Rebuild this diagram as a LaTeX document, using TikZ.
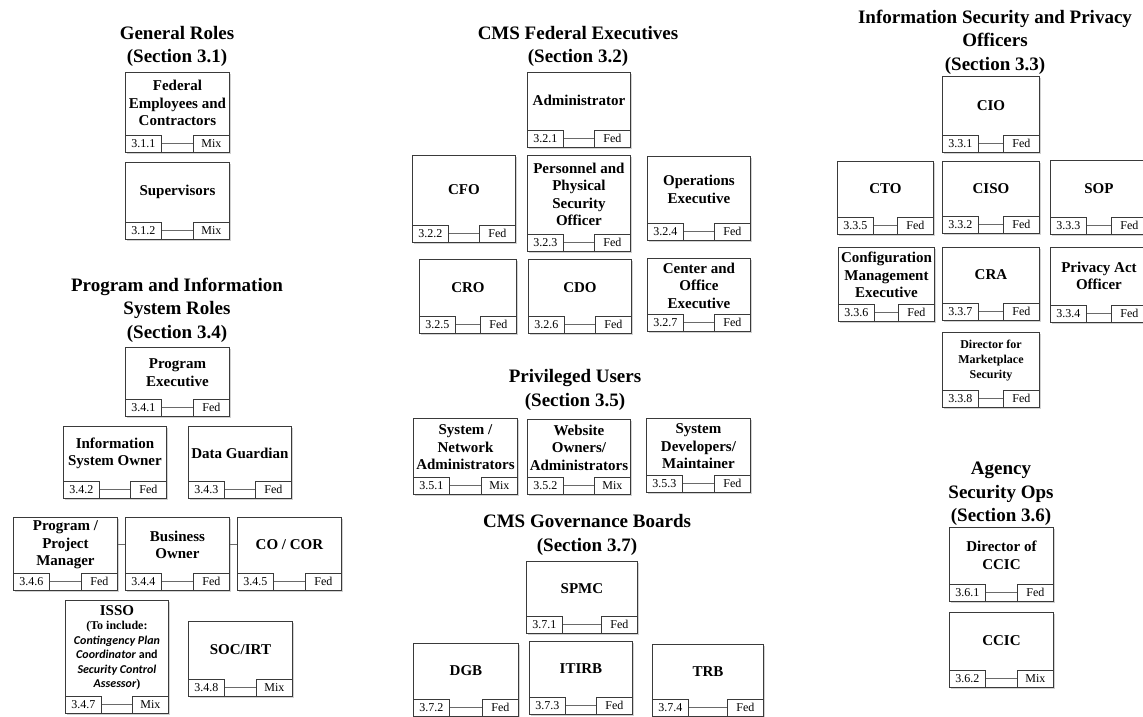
\documentclass[tikz,border=0pt]{standalone}
\usepackage{fontspec}
\setmainfont{Liberation Serif}
\newfontfamily\calib{Carlito}
\usetikzlibrary{calc,shadows}
\definecolor{edge}{HTML}{3a3a3a}
\definecolor{wire}{HTML}{6a6a6a}
\tikzset{
  card/.style={draw=edge,line width=.9pt,fill=white,inner sep=0pt,
     drop shadow={shadow xshift=1.6pt,shadow yshift=-1.6pt,fill=black!35}},
  cardtext/.style={font=\fontsize{15}{17.5}\selectfont\bfseries,
     align=center,inner sep=0pt},
  tag/.style={draw=edge,line width=.9pt,fill=white,inner sep=0pt,
     minimum width=36pt,minimum height=17.5pt,font=\fontsize{12}{12}\selectfont},
  wire/.style={draw=wire,line width=1pt},
  heading/.style={font=\fontsize{19}{23.5}\selectfont\bfseries,
     align=center,inner sep=0pt},
}
% [#1] text style, #2 name, #3 x, #4 y (top left), #5 width, #6 height,
% #7 role, #8 section no., #9 Fed/Mix
\newcommand\rolecard[9][]{%
  \node[card,anchor=north west,minimum width=#5pt,minimum height=#6pt] (#2) at (#3,#4) {};
  \node[cardtext,#1] (#2-t) at ($(#2.north)+(0,{(#6-17.5)/2})$) {#7};
  \node[tag,anchor=south west] (#2-n) at (#2.south west) {#8};
  \node[tag,anchor=south east] (#2-k) at (#2.south east) {#9};
  \draw[wire] (#2-n) -- (#2-k);
}

\begin{document}
\begin{tikzpicture}[x=1pt,y=-1pt]
  \useasboundingbox (0,0) rectangle (1143,717);

  % general roles
  \node[heading] (h31) at (177,46.5) {General Roles\\(Section 3.1)};
  \rolecard{b311}{125}{72}{104}{80}{Federal\\Employees and\\Contractors}{3.1.1}{Mix}
  \rolecard{b312}{125}{162}{104}{77}{Supervisors}{3.1.2}{Mix}

  % program and information system roles
  \node[heading] (h34) at (177,310) {Program and Information\\System Roles\\(Section 3.4)};
  \rolecard{b341}{125}{347}{104}{69}{Program\\Executive}{3.4.1}{Fed}
  \rolecard{b342}{63}{426}{103}{72}{Information\\System Owner}{3.4.2}{Fed}
  \rolecard{b343}{188}{426}{103}{72}{Data Guardian}{3.4.3}{Fed}
  \rolecard{b346}{13}{517}{104}{73}{Program /\\Project\\Manager}{3.4.6}{Fed}
  \rolecard{b344}{125}{517}{104}{73}{Business\\Owner}{3.4.4}{Fed}
  \rolecard{b345}{237}{517}{104}{73}{CO / COR}{3.4.5}{Fed}
  \draw[wire] (b346.east |- b344-t) -- (b344.west |- b344-t);
  \draw[wire] (b344.east |- b344-t) -- (b345.west |- b344-t);
  \rolecard[font=\fontsize{12}{14.5}\selectfont\bfseries]{b347}{65}{600}{103}{113}
    {{\fontsize{15}{15}\selectfont ISSO}\\(To include:\\
     {\calib\itshape Contingency Plan}\\{\calib\itshape Coordinator} {\calib and}\\
     {\calib\itshape Security Control}\\{\calib\itshape Assessor})}{3.4.7}{Mix}
  \rolecard{b348}{188}{621}{104}{75}{SOC/IRT}{3.4.8}{Mix}

  % federal executives
  \node[heading] (h32) at (578,46.5) {CMS Federal Executives\\(Section 3.2)};
  \rolecard{b321}{527}{72}{103}{75}{Administrator}{3.2.1}{Fed}
  \rolecard{b322}{412}{155}{103}{87}{CFO}{3.2.2}{Fed}
  \rolecard{b323}{527}{155}{103}{96}{Personnel and\\Physical\\Security\\Officer}{3.2.3}{Fed}
  \rolecard{b324}{647}{156}{103}{84}{Operations\\Executive}{3.2.4}{Fed}
  \rolecard{b325}{419}{259}{97}{74}{CRO}{3.2.5}{Fed}
  \rolecard{b326}{528}{259}{103}{74}{CDO}{3.2.6}{Fed}
  \rolecard{b327}{647}{258}{103}{73}{Center and\\Office\\Executive}{3.2.7}{Fed}

  % privileged users
  \node[heading] (h35) at (575,390) {Privileged Users\\(Section 3.5)};
  \rolecard{b351}{413}{418}{104}{76}{System /\\Network\\Administrators}{3.5.1}{Mix}
  \rolecard{b352}{527}{419}{103}{75}{Website\\Owners/\\Administrators}{3.5.2}{Mix}
  \rolecard{b353}{646}{418}{104}{74}{System\\Developers/\\Maintainer}{3.5.3}{Fed}

  % governance boards
  \node[heading] (h37) at (587,535) {CMS Governance Boards\\(Section 3.7)};
  \rolecard{b371}{526}{561}{111}{72}{SPMC}{3.7.1}{Fed}
  \rolecard{b372}{413}{643}{105}{73}{DGB}{3.7.2}{Fed}
  \rolecard{b373}{529}{641}{103}{73}{ITIRB}{3.7.3}{Fed}
  \rolecard{b374}{652}{644}{111}{72}{TRB}{3.7.4}{Fed}

  % security and privacy officers
  \node[heading] (h33) at (995,42) {Information Security and Privacy\\Officers\\(Section 3.3)};
  \rolecard{b331}{942}{76}{97}{76}{CIO}{3.3.1}{Fed}
  \rolecard{b335}{837}{161}{96}{73}{CTO}{3.3.5}{Fed}
  \rolecard{b332}{942}{161}{97}{72}{CISO}{3.3.2}{Fed}
  \rolecard{b333}{1050}{160}{97}{74}{SOP}{3.3.3}{Fed}
  \rolecard{b336}{838}{247}{96}{74}{Configuration\\Management\\Executive}{3.3.6}{Fed}
  \rolecard{b337}{942}{247}{97}{73}{CRA}{3.3.7}{Fed}
  \rolecard{b334}{1050}{247}{97}{75}{Privacy Act\\Officer}{3.3.4}{Fed}
  \rolecard[font=\fontsize{12}{15}\selectfont\bfseries]{b338}{942}{332}{97}{75}
    {Director for\\Marketplace\\Security}{3.3.8}{Fed}

  % agency security ops
  \node[heading] (h36) at (1001,494) {Agency\\Security Ops\\(Section 3.6)};
  \rolecard{b361}{949}{527}{104}{74}{Director of\\CCIC}{3.6.1}{Fed}
  \rolecard{b362}{949}{612}{104}{75}{CCIC}{3.6.2}{Mix}
\end{tikzpicture}
\end{document}
